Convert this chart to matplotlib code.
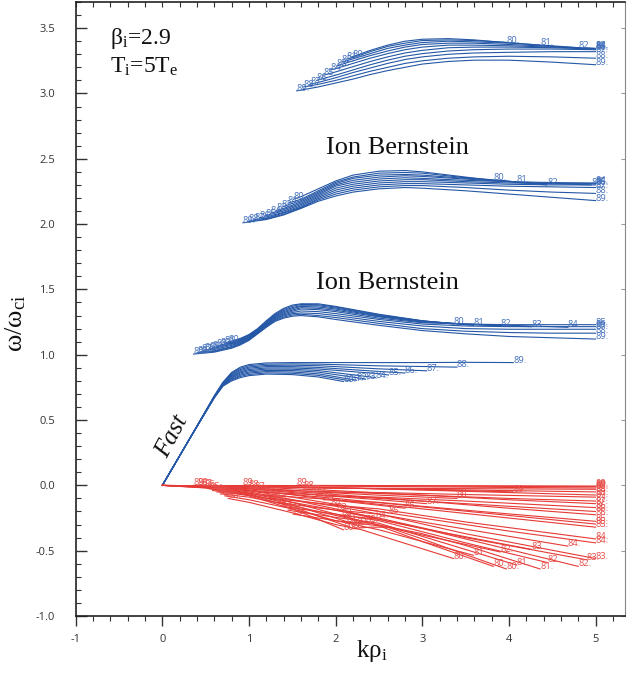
import matplotlib
matplotlib.use('Agg')
import matplotlib.pyplot as plt
from matplotlib.ticker import MultipleLocator

plt.rcParams['font.family'] = ['Open Sans', 'DejaVu Sans']
plt.rcParams['mathtext.fontset'] = 'custom'
plt.rcParams['mathtext.rm'] = 'Liberation Serif'
plt.rcParams['mathtext.it'] = 'Liberation Serif:italic'
plt.rcParams['axes.unicode_minus'] = False

angles = [80, 81, 82, 83, 84, 85, 86, 87, 88, 89]

# ---------------- Fast branch (blue) ----------------
fast_grid = [0.3, 0.6, 0.7, 0.8, 0.9, 1.0, 1.2, 1.5, 1.8, 2.5, 3.0, 3.5]
fast_end_x = [2.09, 2.17, 2.24, 2.34, 2.46, 2.61, 2.80, 3.05, 3.40, 4.05]
fast_end_y = [0.795, 0.80, 0.805, 0.815, 0.825, 0.845, 0.86, 0.877, 0.905, 0.94]
fast_rows = [
    [0.34, 0.670, 0.760, 0.800, 0.825, 0.840, 0.852, 0.848, 0.830, None, None, None],
    [0.34, 0.672, 0.763, 0.807, 0.834, 0.849, 0.861, 0.858, 0.842, None, None, None],
    [0.34, 0.674, 0.767, 0.814, 0.843, 0.859, 0.871, 0.868, 0.854, None, None, None],
    [0.34, 0.675, 0.770, 0.822, 0.852, 0.868, 0.880, 0.879, 0.867, None, None, None],
    [0.34, 0.677, 0.773, 0.829, 0.861, 0.878, 0.890, 0.889, 0.879, None, None, None],
    [0.34, 0.679, 0.777, 0.836, 0.869, 0.887, 0.899, 0.899, 0.891, 0.855, None, None],
    [0.34, 0.681, 0.780, 0.843, 0.878, 0.897, 0.909, 0.909, 0.903, 0.872, None, None],
    [0.34, 0.682, 0.783, 0.851, 0.887, 0.906, 0.918, 0.920, 0.916, 0.892, None, None],
    [0.34, 0.684, 0.787, 0.858, 0.896, 0.916, 0.928, 0.930, 0.928, 0.915, 0.91, None],
    [0.34, 0.686, 0.790, 0.865, 0.905, 0.925, 0.937, 0.940, 0.940, 0.940, 0.94, 0.942],
]

# ---------------- Ion Bernstein branch 1 (blue) ----------------
b1_grid = [0.6, 0.8, 0.9, 1.0, 1.1, 1.2, 1.3, 1.4, 1.5, 1.6, 1.8, 2.0, 2.5, 3.0, 3.5, 4.0, 4.5, 5.0]
b1_start_x = [0.76, 0.72, 0.67, 0.63, 0.58, 0.54, 0.49, 0.45, 0.40, 0.36]
b1_start_y = [1.10, 1.09, 1.075, 1.065, 1.055, 1.045, 1.035, 1.025, 1.015, 1.005]
b1_end_x = [3.36, 3.59, 3.90, 4.26, 4.68, 5.0, 5.0, 5.0, 5.0, 5.0]
b1_end_y = [1.235, 1.225, 1.22, 1.215, 1.21, 1.23, 1.215, 1.195, 1.165, 1.12]
b1_rows = [
    [None, 1.105, 1.125, 1.155, 1.200, 1.260, 1.315, 1.355, 1.380, 1.39, 1.39, 1.37, 1.31, 1.26, None, None, None, None],
    [None, 1.100, 1.119, 1.150, 1.196, 1.254, 1.308, 1.347, 1.371, 1.385, 1.383, 1.365, 1.305, 1.26, 1.23, None, None, None],
    [None, 1.095, 1.114, 1.145, 1.191, 1.249, 1.302, 1.338, 1.361, 1.375, 1.375, 1.358, 1.30, 1.258, 1.232, None, None, None],
    [None, 1.090, 1.108, 1.140, 1.187, 1.243, 1.295, 1.330, 1.352, 1.37, 1.365, 1.35, 1.295, 1.255, 1.235, 1.22, None, None],
    [None, 1.085, 1.103, 1.135, 1.182, 1.238, 1.288, 1.322, 1.342, 1.36, 1.355, 1.34, 1.29, 1.25, 1.235, 1.225, 1.215, None],
    [1.05, 1.080, 1.097, 1.130, 1.178, 1.232, 1.282, 1.313, 1.333, 1.35, 1.345, 1.33, 1.28, 1.245, 1.235, 1.23, 1.23, None],
    [1.04, 1.072, 1.092, 1.125, 1.173, 1.227, 1.275, 1.305, 1.323, 1.335, 1.33, 1.315, 1.27, 1.235, 1.22, 1.215, 1.215, None],
    [1.03, 1.063, 1.086, 1.120, 1.169, 1.221, 1.268, 1.297, 1.314, 1.32, 1.315, 1.30, 1.255, 1.22, 1.20, 1.195, 1.195, None],
    [1.025, 1.057, 1.081, 1.115, 1.164, 1.216, 1.262, 1.288, 1.304, 1.31, 1.30, 1.285, 1.24, 1.20, 1.18, 1.17, 1.165, None],
    [1.02, 1.050, 1.075, 1.110, 1.160, 1.210, 1.255, 1.280, 1.295, 1.30, 1.29, 1.27, 1.225, 1.185, 1.16, 1.14, 1.13, None],
]

# ---------------- Ion Bernstein branch 2 (blue) ----------------
b2_grid = [1.2, 1.4, 1.6, 1.8, 2.0, 2.2, 2.5, 2.8, 3.0, 3.5, 4.0, 4.5, 5.0]
b2_start_x = [1.51, 1.45, 1.38, 1.32, 1.25, 1.19, 1.12, 1.06, 0.99, 0.93]
b2_start_y = [2.19, 2.16, 2.13, 2.105, 2.085, 2.065, 2.05, 2.035, 2.02, 2.01]
b2_end_x = [3.82, 4.09, 4.44, 4.95, 5.0, 5.0, 5.0, 5.0, 5.0, 5.0]
b2_end_y = [2.335, 2.32, 2.30, 2.30, 2.315, 2.31, 2.30, 2.28, 2.235, 2.18]
b2_rows = [
    [None, None, 2.21, 2.27, 2.33, 2.375, 2.405, 2.41, 2.40, 2.36, None, None, None],
    [None, None, 2.19, 2.255, 2.32, 2.36, 2.39, 2.395, 2.39, 2.355, 2.33, None, None],
    [None, 2.135, 2.18, 2.245, 2.31, 2.35, 2.375, 2.38, 2.375, 2.35, 2.325, None, None],
    [None, 2.12, 2.17, 2.235, 2.30, 2.335, 2.36, 2.37, 2.365, 2.345, 2.325, 2.31, None],
    [None, 2.11, 2.16, 2.225, 2.29, 2.32, 2.345, 2.355, 2.35, 2.335, 2.325, 2.318, None],
    [None, 2.10, 2.15, 2.215, 2.275, 2.305, 2.33, 2.34, 2.34, 2.325, 2.315, 2.31, None],
    [2.055, 2.09, 2.14, 2.205, 2.26, 2.29, 2.315, 2.325, 2.325, 2.315, 2.305, 2.30, None],
    [2.045, 2.085, 2.13, 2.195, 2.245, 2.275, 2.30, 2.31, 2.31, 2.30, 2.29, 2.285, None],
    [2.04, 2.075, 2.125, 2.185, 2.23, 2.26, 2.285, 2.295, 2.295, 2.28, 2.26, 2.245, None],
    [2.035, 2.07, 2.12, 2.175, 2.215, 2.245, 2.27, 2.28, 2.275, 2.255, 2.23, 2.205, None],
]

# ---------------- Ion Bernstein branch 3 (blue) ----------------
b3_grid = [1.8, 2.0, 2.2, 2.4, 2.6, 2.8, 3.0, 3.3, 3.6, 4.0, 4.5, 5.0]
b3_start_x = [2.19, 2.13, 2.07, 2.01, 1.94, 1.86, 1.78, 1.71, 1.63, 1.55]
b3_start_y = [3.28, 3.265, 3.24, 3.21, 3.18, 3.14, 3.10, 3.07, 3.05, 3.02]
b3_end_x = [3.97, 4.36, 4.80, 5.0, 5.0, 5.0, 5.0, 5.0, 5.0, 5.0]
b3_end_y = [3.39, 3.37, 3.35, 3.345, 3.345, 3.34, 3.335, 3.32, 3.27, 3.22]
b3_rows = [
    [None, None, None, 3.33, 3.37, 3.40, 3.415, 3.42, 3.41, None, None, None],
    [None, None, 3.275, 3.32, 3.36, 3.385, 3.405, 3.41, 3.405, 3.39, None, None],
    [None, None, 3.265, 3.305, 3.345, 3.37, 3.39, 3.40, 3.395, 3.385, 3.365, None],
    [None, None, 3.25, 3.29, 3.325, 3.355, 3.375, 3.385, 3.385, 3.375, 3.36, None],
    [None, 3.19, 3.23, 3.27, 3.305, 3.335, 3.355, 3.37, 3.37, 3.365, 3.355, None],
    [None, 3.165, 3.205, 3.245, 3.28, 3.31, 3.33, 3.35, 3.355, 3.355, 3.35, None],
    [None, 3.14, 3.18, 3.22, 3.255, 3.285, 3.305, 3.325, 3.335, 3.34, 3.34, None],
    [3.085, 3.12, 3.16, 3.195, 3.23, 3.26, 3.28, 3.30, 3.31, 3.315, 3.32, None],
    [3.07, 3.10, 3.135, 3.17, 3.20, 3.23, 3.25, 3.27, 3.28, 3.285, 3.28, None],
    [3.05, 3.08, 3.11, 3.145, 3.175, 3.20, 3.225, 3.245, 3.255, 3.255, 3.24, None],
]

# ---------------- Damping (red), one curve per blue curve ----------------
rf_x = [
    [0, 0.5, 1.0, 1.5, 1.8, 2.09], [0, 0.5, 1.0, 1.5, 1.8, 2.17],
    [0, 0.5, 1.0, 1.5, 1.8, 2.24], [0, 0.5, 1.0, 1.5, 2.0, 2.34],
    [0, 0.5, 1.0, 1.5, 2.0, 2.46], [0, 0.5, 1.0, 1.5, 2.0, 2.61],
    [0, 0.5, 1.0, 1.5, 2.0, 2.80], [0, 0.5, 1.0, 1.5, 2.0, 2.5, 3.05],
    [0, 0.5, 1.0, 1.5, 2.0, 2.5, 3.40], [0, 1.0, 2.0, 3.0, 4.05],
]
rf_y = [
    [0, -0.02, -0.08, -0.18, -0.26, -0.34], [0, -0.018, -0.072, -0.165, -0.235, -0.32],
    [0, -0.016, -0.065, -0.15, -0.21, -0.30], [0, -0.014, -0.058, -0.13, -0.22, -0.28],
    [0, -0.012, -0.05, -0.11, -0.18, -0.25], [0, -0.01, -0.042, -0.09, -0.145, -0.21],
    [0, -0.008, -0.034, -0.072, -0.115, -0.175], [0, -0.006, -0.026, -0.055, -0.085, -0.11, -0.14],
    [0, -0.004, -0.018, -0.038, -0.058, -0.075, -0.10], [0, -0.008, -0.02, -0.033, -0.05],
]
r1_x = [
    [0.76, 1.0, 1.5, 2.0, 2.3, 3.36], [0.72, 1.0, 1.5, 2.0, 2.5, 3.59],
    [0.67, 1.0, 1.5, 2.0, 3.0, 3.90], [0.63, 1.0, 1.5, 2.0, 3.0, 4.26],
    [0.58, 1.0, 1.5, 2.0, 3.0, 4.0, 4.68], [0.54, 1.0, 2.0, 3.0, 4.0, 5.0],
    [0.49, 1.0, 2.0, 3.0, 4.0, 5.0], [0.45, 1.0, 2.0, 3.0, 4.0, 5.0],
    [0.40, 1.0, 2.0, 3.0, 4.0, 5.0], [0.36, 1.0, 2.0, 3.0, 4.0, 5.0],
]
r1_y = [
    [-0.10, -0.13, -0.21, -0.30, -0.34, -0.56], [-0.08, -0.11, -0.18, -0.27, -0.34, -0.535],
    [-0.065, -0.09, -0.155, -0.23, -0.38, -0.51], [-0.05, -0.075, -0.13, -0.19, -0.33, -0.49],
    [-0.04, -0.06, -0.11, -0.16, -0.28, -0.39, -0.465], [-0.025, -0.04, -0.10, -0.165, -0.23, -0.296],
    [-0.015, -0.025, -0.07, -0.12, -0.175, -0.225], [-0.005, -0.012, -0.04, -0.075, -0.11, -0.14],
    [0.0, -0.005, -0.018, -0.036, -0.055, -0.074], [0.0, -0.002, -0.006, -0.011, -0.016, -0.02],
]
r2_x = [
    [1.51, 2.0, 2.5, 3.0, 3.82], [1.45, 2.0, 2.5, 3.0, 4.09],
    [1.38, 2.0, 2.5, 3.5, 4.44], [1.32, 2.0, 2.5, 3.5, 4.90],
    [1.25, 2.0, 3.0, 4.0, 5.0], [1.19, 2.0, 3.0, 4.0, 5.0],
    [1.12, 2.0, 3.0, 4.0, 5.0], [1.06, 2.0, 3.0, 4.0, 5.0],
    [0.99, 2.0, 3.0, 4.0, 5.0], [0.93, 2.0, 3.0, 4.0, 5.0],
]
r2_y = [
    [-0.22, -0.27, -0.31, -0.43, -0.62], [-0.19, -0.245, -0.29, -0.39, -0.61],
    [-0.16, -0.22, -0.27, -0.44, -0.59], [-0.13, -0.19, -0.25, -0.40, -0.57],
    [-0.10, -0.15, -0.25, -0.35, -0.44], [-0.075, -0.11, -0.18, -0.25, -0.32],
    [-0.05, -0.08, -0.12, -0.16, -0.20], [-0.03, -0.05, -0.075, -0.10, -0.12],
    [-0.01, -0.02, -0.03, -0.04, -0.05], [0.0, -0.003, -0.005, -0.008, -0.01],
]
r3_x = [
    [2.19, 2.4, 2.6, 3.0, 3.5, 3.97], [2.13, 2.4, 3.0, 3.5, 4.36],
    [2.07, 2.5, 3.0, 4.0, 4.80], [2.01, 2.5, 3.5, 5.0],
    [1.94, 2.5, 3.5, 5.0], [1.86, 2.5, 3.5, 5.0],
    [1.78, 2.5, 3.5, 5.0], [1.71, 2.5, 3.5, 5.0],
    [1.63, 2.5, 3.5, 5.0], [1.55, 3.0, 5.0],
]
r3_y = [
    [-0.33, -0.32, -0.32, -0.41, -0.53, -0.64], [-0.28, -0.29, -0.37, -0.46, -0.64],
    [-0.23, -0.26, -0.33, -0.49, -0.62], [-0.19, -0.22, -0.37, -0.56],
    [-0.15, -0.18, -0.28, -0.41], [-0.11, -0.13, -0.19, -0.275],
    [-0.08, -0.09, -0.12, -0.17], [-0.05, -0.055, -0.07, -0.09],
    [-0.02, -0.022, -0.025, -0.03], [0.0, -0.002, -0.005],
]

BLUE = '#2457a6'
BLUE_T = '#4471bd'
RED = '#e63a36'
RED_T = '#e8504c'


def assemble(x0, y0, grid, row, xe, ye):
    xs, ys = [x0], [y0]
    for g, v in zip(grid, row):
        if v is not None and x0 < g < xe:
            xs.append(g)
            ys.append(v)
    xs.append(xe)
    ys.append(ye)
    return xs, ys


fig = plt.figure(figsize=(6.31, 6.75), dpi=100)
ax = fig.add_axes([0.12, 0.0874, 0.8705, 0.9096])


def label(x, y, a, color):
    ax.text(x, y, f'{a}.', fontsize=6.7, color=color, ha='left', va='baseline',
            family='Open Sans')


# blue branches
for i, a in enumerate(angles):
    xs, ys = assemble(0.0, 0.0, fast_grid, fast_rows[i], fast_end_x[i], fast_end_y[i])
    ax.plot(xs, ys, color=BLUE, lw=0.8)
    label(xs[-1], ys[-1], a, BLUE_T)

for grid, sx, sy, ex, ey, rows in [
        (b1_grid, b1_start_x, b1_start_y, b1_end_x, b1_end_y, b1_rows),
        (b2_grid, b2_start_x, b2_start_y, b2_end_x, b2_end_y, b2_rows),
        (b3_grid, b3_start_x, b3_start_y, b3_end_x, b3_end_y, b3_rows)]:
    for i, a in enumerate(angles):
        xs, ys = assemble(sx[i], sy[i], grid, rows[i], ex[i], ey[i])
        ax.plot(xs, ys, color=BLUE, lw=0.8)
        label(xs[0], ys[0], a, BLUE_T)
        label(xs[-1], ys[-1], a, BLUE_T)

# red damping curves
for i, a in enumerate(angles):
    ax.plot(rf_x[i], rf_y[i], color=RED, lw=0.8)
    label(rf_x[i][-1], rf_y[i][-1], a, RED_T)
for rx, ry in [(r1_x, r1_y), (r2_x, r2_y), (r3_x, r3_y)]:
    for i, a in enumerate(angles):
        ax.plot(rx[i], ry[i], color=RED, lw=0.8)
        label(rx[i][0], ry[i][0], a, RED_T)
        label(rx[i][-1], ry[i][-1], a, RED_T)

# axes styling
ax.set_xlim(-1, 5.34)
ax.set_ylim(-1.0, 3.70)
ax.xaxis.set_major_locator(MultipleLocator(1))
ax.xaxis.set_minor_locator(MultipleLocator(0.2))
ax.yaxis.set_major_locator(MultipleLocator(0.5))
ax.yaxis.set_minor_locator(MultipleLocator(0.1))
TC = '#333333'
ax.tick_params(axis='x', which='major', direction='out', length=7, width=1.0,
               color=TC, labelcolor=TC, labelsize=8, pad=6, top=False)
ax.tick_params(axis='x', which='minor', direction='out', length=3.6, width=0.8,
               color=TC, top=False)
ax.tick_params(axis='y', which='major', direction='in', length=8, width=1.0,
               color=TC, labelcolor=TC, labelsize=8, pad=15, right=False)
ax.tick_params(axis='y', which='minor', direction='in', length=3.6, width=0.8,
               color=TC, right=False)
for s in ['left', 'bottom', 'top']:
    ax.spines[s].set_color('#222222')
    ax.spines[s].set_linewidth(1.2)
ax.spines['right'].set_color('#888888')
ax.spines['right'].set_linewidth(0.8)

sec = ax.secondary_xaxis('top')
sec.xaxis.set_major_locator(MultipleLocator(0.2))
sec.tick_params(direction='in', length=3.6, width=0.8, color=TC, labeltop=False)
sec.spines['top'].set_visible(False)
secy = ax.secondary_yaxis('right')
secy.yaxis.set_major_locator(MultipleLocator(0.5))
secy.tick_params(direction='in', length=3, width=0.8, color='#999999', labelright=False)
secy.spines['right'].set_visible(False)

SERIF = ['Liberation Serif', 'DejaVu Serif']
ax.text(2.71, 2.58, 'Ion Bernstein', fontsize=19, family=SERIF, ha='center', va='center', color='#111111')
ax.text(2.595, 1.55, 'Ion Bernstein', fontsize=19, family=SERIF, ha='center', va='center', color='#111111')
ax.text(-0.60, 3.377, r'β$_{\rm i}$=2.9', fontsize=17, family=SERIF, ha='left', va='baseline', color='#111111')
ax.text(-0.60, 3.16, r'T$_{\rm i}$=5T$_{\rm e}$', fontsize=17, family=SERIF, ha='left', va='baseline', color='#111111')
ax.text(0.115, 0.37, 'Fast', fontsize=18, family=SERIF, style='italic', rotation=62,
        ha='center', va='center', color='#111111')

fig.text(371.5 / 631, 1 - 657 / 675, r'kρ$_{\rm i}$', fontsize=18, family=SERIF,
         ha='center', va='baseline', color='#111111')
fig.text(16 / 631, 1 - 323 / 675, r'ω/ω$_{\rm ci}$', fontsize=19, family=SERIF,
         rotation=90, ha='center', va='center', color='#111111')

fig.savefig('out.png', dpi=100)
